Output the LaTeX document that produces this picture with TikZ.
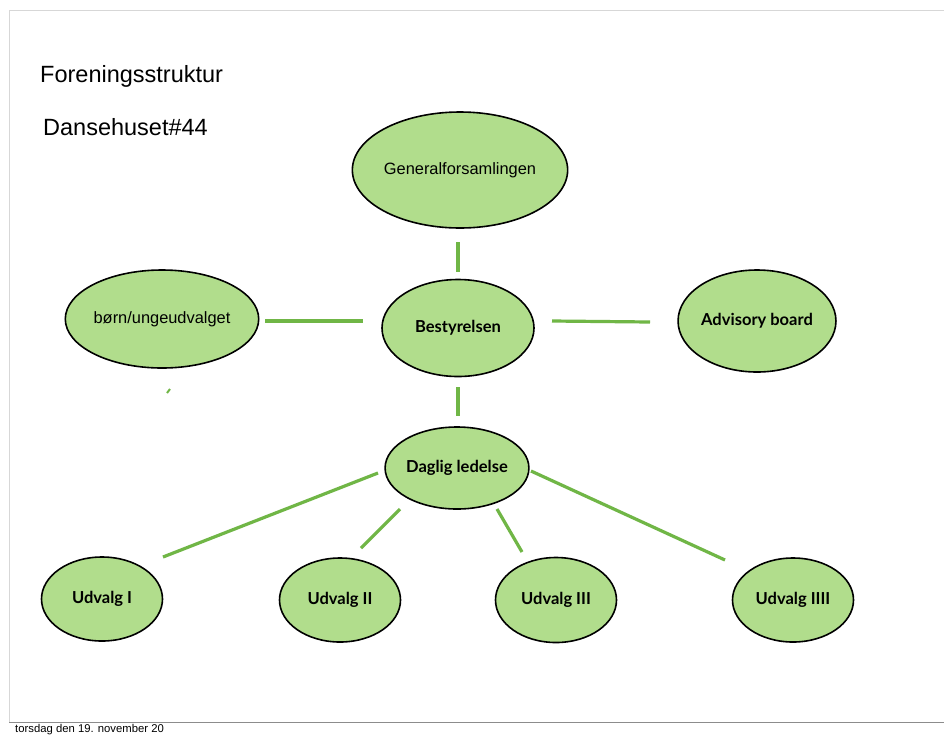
\documentclass[tikz,border=0pt]{standalone}
\usepackage{fontspec}
\setmainfont{Liberation Sans}
\newfontfamily\gillfont{Lato}
\usetikzlibrary{shapes.geometric}
\definecolor{nodefill}{RGB}{177,221,140}
\definecolor{linkgreen}{RGB}{112,182,70}
\definecolor{framegray}{RGB}{215,215,215}
\definecolor{framedark}{RGB}{140,140,140}
\begin{document}
\begin{tikzpicture}[x=1pt,y=-1pt,
  bubble/.style={ellipse, draw=black, line width=1.6pt, fill=nodefill, inner sep=0pt},
  arialtxt/.style={font=\fontsize{16.4}{18}\selectfont},
  gilltxt/.style={font=\gillfont\bfseries\fontsize{16.5}{18}\selectfont},
  link/.style={draw=linkgreen, line width=3.2pt},
  title/.style={anchor=base west, inner sep=0pt, font=\fontsize{23.5}{26}\selectfont}
]
\useasboundingbox (0,0) rectangle (944,734);
\clip (0,0) rectangle (944,734);
\fill[white] (0,0) rectangle (944,734);
% frame
\coordinate (ftl) at (9,10);
\coordinate (ftr) at (944,10);
\coordinate (fbl) at (9,722);
\coordinate (fbr) at (944,722);
\draw[framegray, line width=1pt] (ftr) -- (ftl) -- (fbl);
\draw[framedark, line width=1pt] (fbl) -- (fbr);

% titles
\node[title] (t1) at (40,82) {Foreningsstruktur};
\node[title] (t2) at (43,135) {Dansehuset\#44};
\node[anchor=base west, inner sep=0pt, font=\fontsize{11.3}{13}\selectfont] (foot) at (15,732.3) {torsdag den 19. november 20};

% nodes
\node[bubble, arialtxt, minimum width=176, minimum height=116] (gen) at (460,170) {Generalforsamlingen};
\node[bubble, gilltxt, minimum width=152, minimum height=97] (best) at (458,328) {Bestyrelsen};
\node[bubble, arialtxt, minimum width=156, minimum height=98] (born) at (162,319) {børn/ungeudvalget};
\node[bubble, gilltxt, minimum width=150, minimum height=102] (adv) at (757,321) {Advisory board};
\node[bubble, gilltxt, minimum width=120, minimum height=82] (dag) at (457,468) {Daglig ledelse};
\node[bubble, gilltxt, minimum width=121, minimum height=84] (u1) at (102,599) {Udvalg I};
\node[bubble, gilltxt, minimum width=121, minimum height=84] (u2) at (340,600) {Udvalg II};
\node[bubble, gilltxt, minimum width=121, minimum height=85] (u3) at (556,600) {Udvalg III};
\node[bubble, gilltxt, minimum width=121, minimum height=84] (u4) at (793,600) {Udvalg IIII};

% connector end points (connectors float between the bubbles)
\coordinate (a1) at (458,242); \coordinate (a2) at (458,272);
\coordinate (b1) at (265,321); \coordinate (b2) at (363,321);
\coordinate (c1) at (552,321); \coordinate (c2) at (650,322);
\coordinate (d1) at (458,387); \coordinate (d2) at (458,416);
\coordinate (e1) at (378,473); \coordinate (e2) at (163,557);
\coordinate (f1) at (400,509); \coordinate (f2) at (361,548);
\coordinate (g1) at (497,509); \coordinate (g2) at (522,552);
\coordinate (h1) at (531,471); \coordinate (h2) at (725,560);
\coordinate (s1) at (167,393); \coordinate (s2) at (170,389);

\draw[link] (a1) -- (a2);
\draw[link] (b1) -- (b2);
\draw[link] (c1) -- (c2);
\draw[link] (d1) -- (d2);
\draw[link] (e1) -- (e2);
\draw[link] (f1) -- (f2);
\draw[link] (g1) -- (g2);
\draw[link] (h1) -- (h2);
\draw[link, line width=2pt] (s1) -- (s2);
\end{tikzpicture}
\end{document}
